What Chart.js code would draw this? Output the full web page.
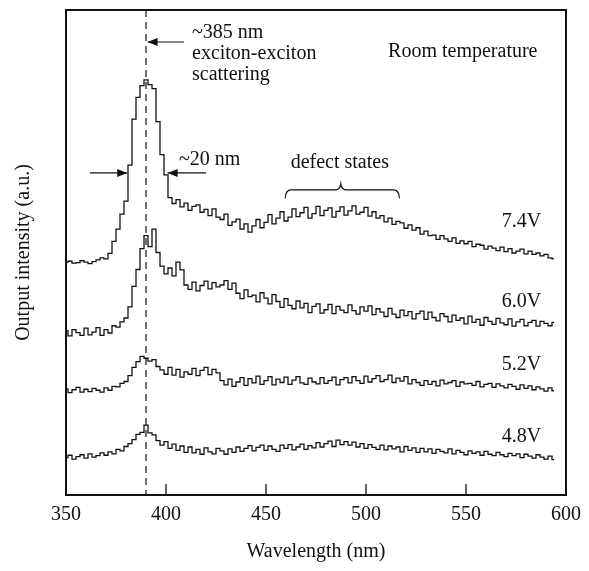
<!DOCTYPE html>
<html>
<head>
<meta charset="utf-8">
<script src="https://cdn.jsdelivr.net/npm/chart.js@4"></script>
<style>
html, body { margin: 0; padding: 0; background: #fff; }
canvas { display: block; }
</style>
</head>
<body>
<canvas id="myChart" width="589" height="571"></canvas>
<script>
// spectra, one sample every 2 nm starting at 350 nm
var wlStart = 350;
var wlStep = 2;

var v74 = [
    48.0, 48.2, 47.8, 47.9, 48.3, 48.0, 47.7, 48.1, 48.5, 48.9,
    48.7, 49.8, 52.3, 54.8, 57.9, 60.6, 68.0, 77.5, 82.0, 84.4,
    85.6, 84.6, 83.8, 77.0, 70.2, 66.0, 61.3, 60.1, 60.9, 59.4,
    60.2, 58.7, 59.5, 59.8, 58.3, 58.9, 57.6, 59.0, 57.3, 56.8,
    57.9, 55.6, 56.3, 56.9, 54.8, 55.9, 54.2, 55.5, 56.8, 55.1,
    56.2, 57.8, 55.9, 57.1, 58.4, 56.5, 57.3, 59.0, 57.4, 58.2,
    59.3, 57.1, 58.0, 59.5, 57.6, 58.7, 59.2, 57.3, 58.5, 59.4,
    57.7, 58.6, 59.6, 57.9, 58.3, 59.3, 57.5, 58.4, 57.1, 57.6,
    56.3, 57.1, 55.8, 56.4, 56.1, 55.0, 55.7, 54.6, 55.1, 53.8,
    54.4, 53.5, 53.6, 52.7, 53.5, 52.8, 52.3, 53.0, 51.9, 52.4,
    51.8, 52.3, 51.2, 51.7, 51.5, 50.7, 51.3, 50.9, 50.4, 51.1,
    50.2, 50.8, 49.9, 50.3, 50.7, 49.7, 50.3, 49.6, 49.9, 49.3,
    49.6, 48.9, 48.7
];
var v60 = [
    33.9, 32.8, 34.1, 33.5, 32.9, 34.4, 33.0, 33.6, 34.5, 32.9,
    34.1, 33.4, 34.9, 34.6, 35.7, 36.5, 38.8, 43.0, 46.5, 50.8,
    53.5, 51.2, 54.8, 50.0, 47.2, 45.6, 46.8, 45.2, 48.0, 46.4,
    43.3, 42.4, 43.9, 42.1, 43.2, 44.1, 42.5, 43.8, 42.9, 43.3,
    44.2, 42.4, 43.7, 41.6, 40.5, 42.3, 40.9, 41.2, 39.8, 41.7,
    40.6, 39.4, 41.3, 39.9, 38.7, 40.5, 39.1, 38.4, 40.0, 38.6,
    39.5, 37.6, 38.9, 39.4, 37.5, 38.2, 39.3, 37.4, 38.9, 38.1,
    37.6, 39.2, 38.0, 37.3, 38.8, 37.9, 39.0, 37.2, 38.4, 37.7,
    36.8, 38.5, 37.3, 36.6, 38.1, 37.0, 37.8, 36.3, 37.4, 37.9,
    36.2, 37.7, 36.6, 35.9, 37.4, 36.8, 35.7, 37.1, 36.0, 36.5,
    35.3, 36.9, 35.6, 36.2, 35.0, 36.6, 35.8, 35.2, 36.4, 35.5,
    35.1, 36.3, 34.8, 35.7, 36.2, 34.9, 35.6, 36.0, 34.8, 35.8,
    35.4, 34.9, 35.6
];
var v52 = [
    21.9, 21.1, 21.7, 22.2, 21.2, 21.8, 21.3, 22.0, 21.6, 21.2,
    22.1, 21.6, 22.4, 22.3, 23.0, 23.4, 24.6, 26.3, 27.5, 28.6,
    28.2, 27.6, 27.9, 26.5, 25.8, 24.9, 26.3, 24.7, 25.9, 24.3,
    25.4, 24.9, 26.1, 24.6, 25.7, 26.3, 24.8, 25.9, 25.2, 23.6,
    22.7, 23.9, 22.4, 23.3, 24.2, 22.6, 24.0, 23.1, 24.5, 22.8,
    23.6, 24.4, 22.7, 23.9, 23.2, 24.3, 22.8, 23.7, 24.4, 23.1,
    22.8, 24.1, 23.3, 22.9, 24.2, 23.0, 23.6, 24.3, 22.7, 23.8,
    24.2, 23.1, 24.4, 23.6, 23.0, 24.5, 23.3, 24.0, 24.6, 23.4,
    23.8, 24.7, 23.2, 24.1, 23.5, 24.4, 22.9, 23.8, 23.2, 22.6,
    23.6, 22.8, 23.4, 22.5, 23.7, 22.9, 23.2, 23.6, 22.4, 23.3,
    22.9, 23.0, 22.6, 23.4, 22.3, 22.8, 23.0, 22.2, 22.9, 22.5,
    22.1, 22.8, 22.4, 21.8, 22.7, 22.0, 22.5, 21.7, 22.3, 21.9,
    21.4, 22.1, 21.5
];
var v48 = [
    7.7, 8.2, 7.4, 7.9, 8.3, 7.6, 8.5, 7.8, 8.1, 8.7,
    8.2, 8.9, 8.5, 9.4, 9.1, 10.0, 10.6, 11.4, 12.5, 12.9,
    14.4, 12.8, 12.4, 11.2, 10.3, 11.0, 9.6, 10.5, 9.2, 10.1,
    8.8, 9.9, 8.7, 9.4, 8.4, 9.7, 8.9, 8.5, 9.6, 9.1,
    8.4, 9.5, 8.8, 9.9, 9.0, 9.6, 10.2, 9.1, 9.8, 10.3,
    9.2, 10.1, 9.4, 9.0, 10.3, 9.6, 10.4, 9.3, 9.9, 10.5,
    9.4, 10.2, 9.7, 10.8, 9.9, 10.6, 11.1, 10.0, 11.3, 10.4,
    11.0, 10.3, 10.9, 9.9, 10.6, 9.6, 10.4, 9.8, 9.4, 10.3,
    9.3, 10.1, 9.5, 9.9, 8.9, 10.0, 9.2, 9.7, 8.8, 9.6,
    8.9, 9.5, 8.6, 9.4, 9.0, 8.7, 9.5, 8.5, 9.2, 8.8,
    8.3, 9.1, 8.6, 8.9, 8.2, 9.0, 8.4, 8.1, 8.8, 8.3,
    7.9, 8.6, 8.1, 8.5, 7.7, 8.4, 8.0, 7.6, 8.3, 7.8,
    7.4, 8.0, 7.3
];

var seriesNames = ['7.4V', '6.0V', '5.2V', '4.8V'];
var xTicks = [350, 400, 450, 500, 550, 600];
var peakNm = 390;

function toPoints(vals) {
    return vals.map((v, i) => ({ x: wlStart + i * wlStep, y: v }));
}

var serif = '"Liberation Serif", "DejaVu Serif", serif';
var ink = '#111';

function arrow(ctx, x1, y1, x2, y2) {
    var ang = Math.atan2(y2 - y1, x2 - x1);
    ctx.beginPath();
    ctx.moveTo(x1, y1);
    ctx.lineTo(x2, y2);
    ctx.stroke();
    ctx.beginPath();
    ctx.moveTo(x2, y2);
    ctx.lineTo(x2 - 10 * Math.cos(ang) + 4 * Math.sin(ang), y2 - 10 * Math.sin(ang) - 4 * Math.cos(ang));
    ctx.lineTo(x2 - 10 * Math.cos(ang) - 4 * Math.sin(ang), y2 - 10 * Math.sin(ang) + 4 * Math.cos(ang));
    ctx.closePath();
    ctx.fill();
}

// frame, inner ticks, dashed marker and annotations
var decor = {
    id: 'decor',
    afterDraw(chart) {
        var ctx = chart.ctx, a = chart.chartArea;
        var xs = chart.scales.x, ys = chart.scales.y;
        var px = v => xs.getPixelForValue(v);
        var py = v => ys.getPixelForValue(v);
        ctx.save();
        ctx.strokeStyle = ink;
        ctx.fillStyle = ink;

        ctx.lineWidth = 2;
        ctx.strokeRect(a.left, a.top, a.right - a.left, a.bottom - a.top);

        ctx.lineWidth = 1.3;
        xTicks.slice(1, -1).forEach(t => {
            ctx.beginPath();
            ctx.moveTo(px(t), a.bottom);
            ctx.lineTo(px(t), a.bottom - 11);
            ctx.stroke();
        });

        ctx.lineWidth = 1.2;
        ctx.setLineDash([7, 5]);
        ctx.beginPath();
        ctx.moveTo(px(peakNm), a.top);
        ctx.lineTo(px(peakNm), a.bottom);
        ctx.stroke();
        ctx.setLineDash([]);

        ctx.lineWidth = 1.2;
        arrow(ctx, px(409), py(93.4), px(390.8), py(93.4));
        arrow(ctx, px(362), py(66.4), px(380.6), py(66.4));
        arrow(ctx, px(420), py(66.4), px(400.8), py(66.4));

        // brace over the defect band
        var by = py(62.9), bt = py(64.1), be = py(61.2);
        ctx.beginPath();
        ctx.moveTo(px(459.6), be);
        ctx.quadraticCurveTo(px(459.8), by, px(462.5), by);
        ctx.lineTo(px(484.5), by);
        ctx.quadraticCurveTo(px(487), by, px(487.4), bt);
        ctx.quadraticCurveTo(px(487.8), by, px(490.3), by);
        ctx.lineTo(px(513.8), by);
        ctx.quadraticCurveTo(px(516.5), by, px(516.7), be);
        ctx.stroke();

        ctx.font = '20px ' + serif;
        ctx.textBaseline = 'middle';
        ctx.textAlign = 'left';
        ctx.fillText('~385 nm', px(413), py(95.3));
        ctx.fillText('exciton-exciton', px(413), py(90.9));
        ctx.fillText('scattering', px(413), py(86.7));
        ctx.fillText('~20 nm', px(406.5), py(69.1));
        ctx.textAlign = 'center';
        ctx.fillText('defect states', px(486.9), py(68.5));
        ctx.fillText('Room temperature', px(548.4), py(91.3));
        var labelY = [56.3, 39.8, 26.8, 12.0];
        seriesNames.forEach((n, i) => ctx.fillText(n, px(577.7), py(labelY[i])));
        ctx.restore();
    }
};

var dataChart = {
    datasets: [v74, v60, v52, v48].map((vals, i) => ({
        label: seriesNames[i],
        data: toPoints(vals),
        borderColor: ink,
        borderWidth: 1.3,
        pointRadius: 0,
        stepped: 'middle',
        fill: false
    }))
};

var config = {
    type: 'line',
    data: dataChart,
    options: {
        responsive: false,
        animation: false,
        devicePixelRatio: 1,
        layout: { padding: { top: 10, right: 19, left: 0, bottom: 0 } },
        plugins: {
            legend: { display: false },
            tooltip: { enabled: false }
        },
        scales: {
            x: {
                type: 'linear',
                min: 350,
                max: 600,
                afterBuildTicks: s => { s.ticks = xTicks.map(v => ({ value: v })); },
                afterFit: s => { s.height = 76; },
                grid: { display: false, drawTicks: false },
                border: { display: false },
                ticks: { padding: 8, maxRotation: 0, color: ink, font: { family: serif, size: 20 } },
                title: { display: true, text: 'Wavelength (nm)', color: ink, padding: { top: 0, bottom: 7 }, font: { family: serif, size: 20 } }
            },
            y: {
                min: 0,
                max: 100,
                afterFit: s => { s.width = 66; },
                grid: { display: false, drawTicks: false },
                border: { display: false },
                ticks: { display: false },
                title: { display: true, text: 'Output intensity (a.u.)', color: ink, padding: { top: 12, bottom: 0 }, font: { family: serif, size: 20 } }
            }
        }
    },
    plugins: [decor]
};

var ctx = document.getElementById('myChart').getContext('2d');
var myChart = new Chart(ctx, config);
</script>
</body>
</html>
